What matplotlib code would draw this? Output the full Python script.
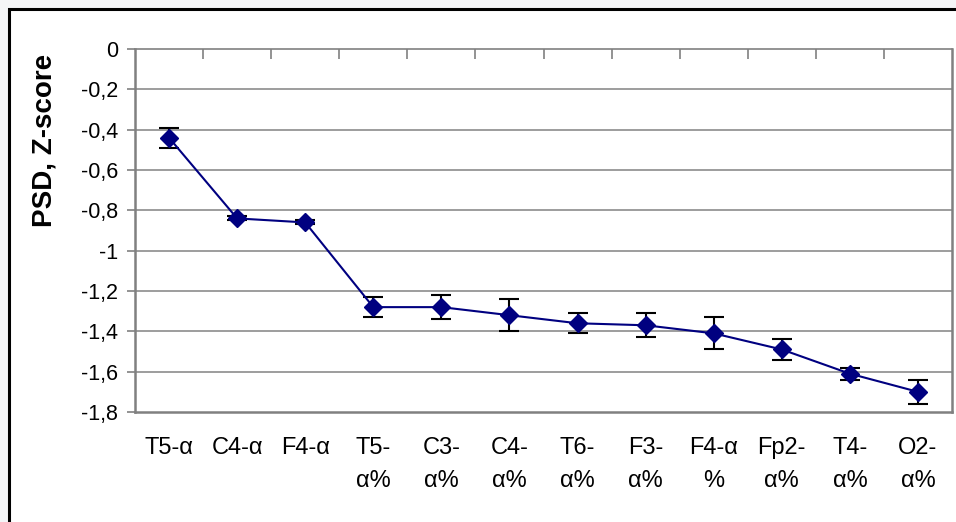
import numpy as np
import matplotlib.pyplot as plt
from matplotlib.patches import Rectangle
from matplotlib.ticker import FuncFormatter

plt.rcParams['font.family'] = ['Liberation Sans', 'DejaVu Sans']

labels = ['T5-α', 'C4-α', 'F4-α', 'T5-\nα%', 'C3-\nα%', 'C4-\nα%', 'T6-\nα%',
          'F3-\nα%', 'F4-α\n%', 'Fp2-\nα%', 'T4-\nα%', 'O2-\nα%']
psd = [-0.44, -0.84, -0.86, -1.28, -1.28, -1.32, -1.36, -1.37, -1.41, -1.49, -1.61, -1.70]
err = [0.05, 0.01, 0.01, 0.05, 0.06, 0.08, 0.05, 0.06, 0.08, 0.05, 0.03, 0.06]

W, H = 956, 522
fig = plt.figure(figsize=(W / 100, H / 100), dpi=100, facecolor='#f4f5f7')

# white chart box with black frame (cut off at right and bottom)
fig.patches.append(Rectangle((9 / W, -0.05), 1.2, 1 - 9 / H + 0.05, transform=fig.transFigure,
                             facecolor='white', edgecolor='black', linewidth=2.2, zorder=-5))

ax = fig.add_axes([135 / W, 1 - 412 / H, (952 - 135) / W, (412 - 49) / H])
ax.set_facecolor('white')

x = np.arange(len(labels)) + 0.5
ax.errorbar(x, psd, yerr=err, fmt='none', ecolor='black', elinewidth=1.5,
            capsize=7.5, capthick=1.5, zorder=3)
ax.plot(x, psd, color='#000080', linewidth=1.5, marker='D', markersize=9.5,
        markerfacecolor='#000080', markeredgecolor='#000080', zorder=4)

ax.set_xlim(0, len(labels))
ax.set_ylim(-1.8, 0)
yt = np.round(np.arange(0, -1.81, -0.2), 1)
ax.set_yticks(yt)
ax.yaxis.set_major_formatter(FuncFormatter(
    lambda v, p: ('%g' % round(v, 1)).replace('.', ',') if abs(v) > 1e-9 else '0'))
for v in yt[1:-1]:
    ax.axhline(v, color='#8c8c8c', linewidth=1.2, zorder=1)

ax.set_xticks(x)
ax.set_xticklabels(labels, fontsize=17, linespacing=1.65, va='top')
ax.tick_params(axis='x', which='major', length=0, pad=18)
ax.set_xticks(np.arange(1, len(labels)), minor=True)
ax.tick_params(axis='x', which='minor', top=True, bottom=False, direction='in',
               length=7, width=1.2, color='#808080')
ax.tick_params(axis='y', labelsize=15.5, length=6, width=1.2, color='#808080', pad=6)

for side in ['left', 'top', 'right', 'bottom']:
    ax.spines[side].set_color('#808080')
    ax.spines[side].set_linewidth(1.8)
ax.spines['top'].set_linewidth(1.2)

fig.text(45 / W, 1 - 140 / H, 'PSD, Z-score', rotation=90, ha='center', va='center',
         fontsize=20, fontweight='bold')

fig.savefig('out.png', dpi=100, facecolor=fig.get_facecolor())
